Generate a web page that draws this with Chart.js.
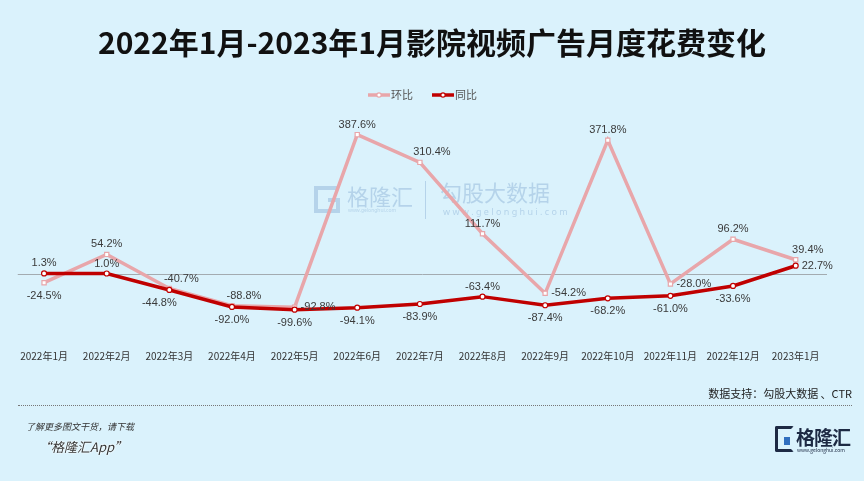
<!DOCTYPE html>
<html>
<head>
<meta charset="utf-8">
<script src="https://cdn.jsdelivr.net/npm/chart.js@4.4.1/dist/chart.umd.min.js"></script>
<style>
  body { margin: 0; width: 864px; height: 481px; background: #daf2fc; position: relative; overflow: hidden;
         font-family: "Noto Sans CJK SC", "Noto Sans", sans-serif; }
  #c { position: absolute; left: 0; top: 0; }
  #title { position: absolute; left: 0; width: 864px; top: 23px; text-align: center; font-size: 30px;
           font-weight: bold; color: #111; line-height: 36px; }
  #source { position: absolute; right: 12px; top: 385px; font-size: 11px; color: #222; }
  #rule { position: absolute; left: 18px; width: 834px; top: 405px; border-top: 1px dotted #777; }
  #more { position: absolute; left: 26px; top: 420px; font-size: 9px; font-style: italic; color: #333; }
  #app { position: absolute; left: 38px; top: 437px; font-size: 13px; font-style: italic; color: #333;
         text-shadow: 0 0 2px #fff, 0 0 2px #fff; }
  #logo { position: absolute; left: 775px; top: 424px; width: 80px; height: 30px; }
  #logo .g { position: absolute; left: 0; top: 2px; width: 13px; height: 20px; border: 3px solid #1d2a44;
             border-right-color: transparent; border-radius: 2px; }
  #logo .g:after { content: ""; position: absolute; left: 6px; top: 8px; width: 6px; height: 8px; background: #2f6fbf; }
  #logo .t { position: absolute; left: 21px; top: -1px; font-size: 19px; font-weight: bold; color: #1d2a44; letter-spacing: -1px; }
  #logo .u { position: absolute; left: 22px; top: 22px; font-size: 5px; color: #1d2a44; white-space: nowrap; }
</style>
</head>
<body>
<canvas id="c" width="864" height="481"></canvas>
<div id="title">2022年1月-2023年1月影院视频广告月度花费变化</div>
<div id="source">数据支持：勾股大数据 、CTR</div>
<div id="rule"></div>
<div id="more">了解更多图文干货，请下载</div>
<div id="app">“格隆汇App”</div>
<div id="logo"><div class="g"></div><div class="t">格隆汇</div><div class="u">www.gelonghui.com</div></div>
<script>
// Data
const months = ['2022年1月', '2022年2月', '2022年3月', '2022年4月', '2022年5月', '2022年6月', '2022年7月',
    '2022年8月', '2022年9月', '2022年10月', '2022年11月', '2022年12月', '2023年1月'];
const momValues = [-24.5, 54.2, -40.7, -88.8, -92.8, 387.6, 310.4, 111.7, -54.2, 371.8, -28.0, 96.2, 39.4];
const yoyValues = [1.3, 1.0, -44.8, -92.0, -99.6, -94.1, -83.9, -63.4, -87.4, -68.2, -61.0, -33.6, 22.7];

// label placement: t = above, b = below, r = right
const momPlace = ['b', 't', 'tr', 'tr', 'r', 't', 'tr', 't', 'r', 't', 'r', 't', 'tr'];
const yoyPlace = ['t', 't', 'bl', 'b', 'b', 'b', 'b', 't', 'b', 'b', 'b', 'b', 'r'];

const pink = '#e8a6aa';
const red = '#c00000';

// zero line + watermark behind the lines
const backdrop = {
    id: 'backdrop',
    beforeDatasetsDraw(chart) {
        const ctx = chart.ctx;
        const area = chart.chartArea;
        const y0 = chart.scales.y.getPixelForValue(0);
        ctx.save();
        ctx.strokeStyle = '#a3abb0';
        ctx.lineWidth = 1;
        ctx.beginPath();
        ctx.moveTo(area.left + 5, Math.round(y0) + 0.5);
        ctx.lineTo(area.right, Math.round(y0) + 0.5);
        ctx.stroke();

        // watermark
        ctx.globalAlpha = 0.35;
        ctx.strokeStyle = '#6f9cc8';
        ctx.fillStyle = '#6f9cc8';
        ctx.lineWidth = 4;
        ctx.beginPath();
        ctx.moveTo(338, 188);
        ctx.lineTo(316, 188);
        ctx.lineTo(316, 211);
        ctx.lineTo(338, 211);
        ctx.lineTo(338, 200);
        ctx.lineTo(328, 200);
        ctx.stroke();
        ctx.font = '22px "Noto Sans CJK SC"';
        ctx.textBaseline = 'middle';
        ctx.fillText('格隆汇', 347, 197);
        ctx.fillText('勾股大数据', 440, 193);
        ctx.font = '5px "Noto Sans"';
        ctx.fillText('www.gelonghui.com', 348, 211);
        ctx.font = '9px "Noto Sans"';
        ctx.fillText('w w w . g e l o n g h u i . c o m', 443, 212);
        ctx.lineWidth = 1;
        ctx.beginPath();
        ctx.moveTo(425.5, 181);
        ctx.lineTo(425.5, 219);
        ctx.stroke();
        ctx.restore();
    }
};

// value labels + legend
const labelsPlugin = {
    id: 'valueLabels',
    afterDatasetsDraw(chart) {
        const ctx = chart.ctx;
        ctx.save();
        ctx.font = '11px "Liberation Sans", Arial, sans-serif';
        ctx.fillStyle = '#3a3a3a';
        ctx.textBaseline = 'middle';
        const places = [momPlace, yoyPlace];
        chart.data.datasets.forEach((ds, i) => {
            chart.getDatasetMeta(i).data.forEach((pt, j) => {
                const txt = ds.data[j].toFixed(1) + '%';
                const p = places[i][j];
                let x = pt.x, y = pt.y;
                ctx.textAlign = 'center';
                if (p === 't') y -= 10;
                if (p === 'b') y += 13;
                if (p === 'tr') { x += 12; y -= 10; }
                if (p === 'bl') { x -= 10; y += 13; }
                if (p === 'r') { ctx.textAlign = 'left'; x += 6; }
                ctx.fillText(txt, x, y);
            });
        });

        // legend
        const items = [[368, chart.data.datasets[0]], [432, chart.data.datasets[1]]];
        items.forEach(([lx, ds]) => {
            ctx.strokeStyle = ds.borderColor;
            ctx.lineWidth = 3.5;
            ctx.beginPath();
            ctx.moveTo(lx, 95);
            ctx.lineTo(lx + 22, 95);
            ctx.stroke();
            ctx.fillStyle = '#fff';
            ctx.lineWidth = 1.2;
            ctx.beginPath();
            ctx.arc(lx + 11, 95, 2.2, 0, Math.PI * 2);
            ctx.fill();
            ctx.stroke();
            ctx.fillStyle = '#555';
            ctx.textAlign = 'left';
            ctx.font = '11px "Noto Sans CJK SC"';
            ctx.fillText(ds.label, lx + 23, 95);
        });
        ctx.restore();
    }
};

new Chart(document.getElementById('c'), {
    type: 'line',
    data: {
        labels: months,
        datasets: [{
            label: '环比',
            data: momValues,
            borderColor: pink,
            borderWidth: 3.5,
            pointStyle: 'rect',
            pointRadius: 3,
            pointBackgroundColor: '#fff',
            pointBorderColor: pink,
            pointBorderWidth: 1.2,
            tension: 0,
            order: 2
        }, {
            label: '同比',
            data: yoyValues,
            borderColor: red,
            borderWidth: 3.5,
            pointStyle: 'circle',
            pointRadius: 2.5,
            pointBackgroundColor: '#fff',
            pointBorderColor: red,
            pointBorderWidth: 1.2,
            tension: 0,
            order: 1
        }]
    },
    options: {
        responsive: false,
        animation: false,
        devicePixelRatio: 1,
        layout: { padding: { left: 4, right: 37, top: 123, bottom: 99 } },
        plugins: { legend: { display: false }, tooltip: { enabled: false } },
        scales: {
            x: {
                offset: true,
                grid: { display: false },
                border: { display: false },
                ticks: { color: '#333', padding: 20, maxRotation: 0, autoSkip: false,
                         font: { size: 10, family: '"Noto Sans CJK SC"' } }
            },
            y: { display: false, min: -134, max: 420 }
        }
    },
    plugins: [backdrop, labelsPlugin]
});
</script>
</body>
</html>
